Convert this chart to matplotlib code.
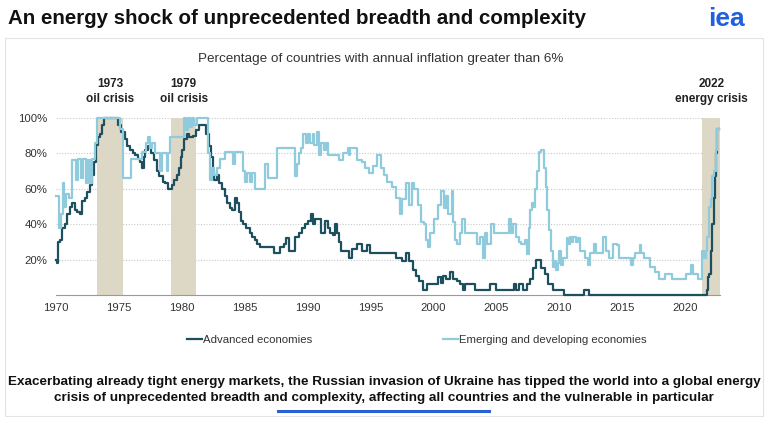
import matplotlib
matplotlib.use("Agg")
import matplotlib.pyplot as plt
from matplotlib.patches import Rectangle

plt.rcParams['font.family'] = ['Liberation Sans', 'DejaVu Sans']

# share of countries with inflation > 6% (year, %)
adv_t = [1970.0, 1970.08, 1970.15, 1970.35, 1970.45, 1970.7, 1970.9, 1971.1, 1971.3, 1971.5,
         1971.7, 1971.9, 1972.1, 1972.3, 1972.5, 1972.7, 1972.85, 1973.0, 1973.2, 1973.35,
         1973.5, 1973.65, 1973.8, 1974.9, 1975.2, 1975.45, 1975.65, 1975.9, 1976.1, 1976.3,
         1976.5, 1976.7, 1976.85, 1977.0, 1977.1, 1977.3, 1977.55, 1977.8, 1978.0, 1978.2,
         1978.5, 1978.7, 1978.9, 1979.2, 1979.4, 1979.6, 1979.8, 1979.95, 1980.05, 1980.2,
         1980.4, 1980.6, 1980.9, 1981.1, 1981.4, 1981.95, 1982.15, 1982.3, 1982.45, 1982.6,
         1982.8, 1983.0, 1983.2, 1983.4, 1983.6, 1983.8, 1984.0, 1984.2, 1984.4, 1984.55,
         1984.7, 1984.85, 1985.1, 1985.4, 1985.6, 1985.8, 1986.0, 1986.2, 1987.3, 1987.85,
         1988.1, 1988.3, 1988.5, 1989.0, 1989.3, 1989.55, 1989.8, 1990.0, 1990.3, 1990.45,
         1990.6, 1991.1, 1991.4, 1991.6, 1991.75, 1992.0, 1992.15, 1992.35, 1992.5, 1992.7,
         1993.3, 1993.55, 1993.9, 1994.3, 1994.7, 1995.0, 1997.0, 1997.55, 1997.85, 1998.1,
         1998.4, 1998.65, 1998.9, 1999.2, 1999.5, 2000.35, 2000.6, 2000.8, 2001.0, 2001.3,
         2001.6, 2001.9, 2002.15, 2002.4, 2002.55, 2003.35, 2004.5, 2005.0, 2006.4, 2006.6,
         2006.85, 2007.1, 2007.45, 2007.7, 2007.95, 2008.15, 2008.6, 2008.85, 2009.1, 2009.5,
         2010.4, 2011.95, 2012.35, 2021.75, 2021.85, 2021.95, 2022.05, 2022.15, 2022.3, 2022.4,
         2022.5, 2022.6, 2022.7]
adv_v = [20, 18, 30, 31, 38, 40, 46, 50, 52, 48,
         47, 46, 53, 55, 58, 62, 68, 75, 85, 89,
         91, 96, 100, 96, 92, 88, 84, 82, 80, 79,
         77, 75, 72, 78, 82, 84, 80, 76, 70, 67,
         64, 63, 60, 62, 65, 68, 72, 78, 82, 88,
         91, 89, 90, 93, 96, 91, 84, 78, 70, 65,
         68, 63, 60, 56, 52, 49, 48, 55, 52, 47,
         42, 40, 38, 35, 33, 31, 29, 27, 24, 27,
         29, 32, 25, 33, 35, 38, 40, 42, 46, 40,
         43, 35, 42, 38, 35, 34, 40, 35, 30, 25,
         21, 26, 29, 25, 28, 24, 21, 19, 24, 19,
         14, 11, 8, 3, 6, 10, 7, 11, 9, 13,
         9, 8, 6, 3, 6, 3, 6, 3, 6, 3,
         6, 3, 6, 9, 15, 20, 15, 12, 6, 3,
         0, 3, 0, 3, 10, 12, 25, 40, 55, 67,
         80, 94, 94]

em_t = [1970.0, 1970.25, 1970.4, 1970.55, 1970.65, 1970.8, 1971.0, 1971.25, 1971.6, 1971.75,
        1971.95, 1972.15, 1972.4, 1972.55, 1972.7, 1972.9, 1973.1, 1973.25, 1975.1, 1975.35,
        1976.0, 1976.8, 1977.15, 1977.35, 1977.5, 1977.65, 1977.85, 1978.3, 1978.45, 1978.8,
        1978.9, 1979.05, 1980.2, 1980.35, 1980.5, 1980.65, 1980.8, 1981.0, 1981.2, 1982.05,
        1982.25, 1982.4, 1982.55, 1982.8, 1983.05, 1983.4, 1984.1, 1984.2, 1984.85, 1985.0,
        1985.15, 1985.4, 1985.6, 1985.85, 1986.6, 1986.85, 1987.55, 1989.0, 1989.15, 1989.3,
        1989.45, 1989.65, 1989.85, 1990.0, 1990.2, 1990.4, 1990.55, 1990.75, 1990.95, 1991.1,
        1991.3, 1991.45, 1991.65, 1992.5, 1992.85, 1993.2, 1993.3, 1993.4, 1993.9, 1994.3,
        1994.6, 1994.9, 1995.2, 1995.55, 1995.85, 1996.1, 1996.35, 1996.7, 1997.0, 1997.35,
        1997.55, 1997.85, 1998.05, 1998.3, 1998.45, 1998.75, 1999.0, 1999.3, 1999.45, 1999.6,
        1999.75, 2000.05, 2000.35, 2000.6, 2000.85, 2001.0, 2001.15, 2001.45, 2001.6, 2001.75,
        2001.9, 2002.1, 2002.25, 2002.5, 2003.5, 2003.75, 2003.95, 2004.1, 2004.3, 2004.6,
        2004.85, 2006.0, 2006.15, 2006.35, 2006.55, 2006.8, 2007.0, 2007.3, 2007.45, 2007.6,
        2007.7, 2007.85, 2008.0, 2008.1, 2008.25, 2008.4, 2008.55, 2008.8, 2008.95, 2009.05,
        2009.2, 2009.35, 2009.5, 2009.6, 2009.75, 2009.9, 2010.0, 2010.15, 2010.35, 2010.6,
        2010.75, 2010.85, 2011.0, 2011.15, 2011.35, 2011.5, 2011.7, 2012.1, 2012.3, 2012.5,
        2012.75, 2012.95, 2013.5, 2013.7, 2013.95, 2014.3, 2014.6, 2014.75, 2015.7, 2015.9,
        2016.05, 2016.4, 2016.55, 2016.75, 2017.25, 2017.65, 2017.95, 2018.45, 2018.95, 2020.1,
        2020.5, 2020.65, 2021.05, 2021.35, 2021.5, 2021.65, 2021.8, 2021.95, 2022.1, 2022.2,
        2022.35, 2022.45, 2022.6, 2022.7]
em_v = [56, 38, 46, 63, 50, 57, 55, 76, 65, 77,
        66, 77, 63, 76, 63, 77, 86, 100, 94, 66,
        77, 81, 86, 89, 83, 86, 80, 70, 80, 70,
        80, 89, 100, 93, 100, 95, 100, 96, 100, 80,
        65, 72, 68, 72, 77, 81, 74, 81, 70, 64,
        69, 64, 69, 60, 74, 66, 83, 67, 74, 80,
        83, 91, 86, 91, 86, 91, 85, 92, 79, 86,
        82, 86, 79, 76, 80, 83, 79, 83, 76, 75,
        72, 69, 73, 79, 72, 68, 64, 61, 55, 46,
        54, 63, 51, 63, 60, 51, 41, 40, 31, 27,
        35, 43, 51, 59, 49, 56, 46, 59, 41, 31,
        29, 35, 43, 35, 29, 33, 21, 35, 29, 40,
        35, 43, 35, 40, 33, 30, 29, 31, 23, 38,
        48, 52, 50, 60, 70, 81, 82, 72, 61, 48,
        37, 25, 16, 19, 14, 18, 25, 17, 21, 32,
        29, 33, 30, 33, 30, 32, 25, 21, 17, 24,
        29, 24, 33, 25, 21, 29, 28, 21, 17, 21,
        24, 28, 24, 21, 16, 13, 9, 12, 9, 12,
        17, 12, 9, 25, 21, 25, 33, 50, 54, 67,
        70, 82, 94, 94]

crises = [(1973.3, 1975.3, "1973\noil crisis"),
          (1979.15, 1981.15, "1979\noil crisis"),
          (2021.4, 2022.8, "2022\nenergy crisis")]

x_ticks = [1970, 1975, 1980, 1985, 1990, 1995, 2000, 2005, 2010, 2015, 2020]
y_ticks = [20, 40, 60, 80, 100]

dark = "#1d4f5e"
light = "#8fcbdc"
band = "#ddd8c5"

W, H = 768, 433
fig = plt.figure(figsize=(W / 100, H / 100), dpi=100)
fig.patch.set_facecolor("white")

def fx(px):
    return px / W

def fy(py):
    return 1 - py / H

# panel frame
fig.patches.append(Rectangle((fx(5), fy(416)), fx(758), (378) / H, transform=fig.transFigure,
                             fill=False, edgecolor="#e3e3e3", linewidth=0.8))

ax = fig.add_axes([fx(56), fy(295), fx(664), 177 / H])
for x0, x1, lab in crises:
    ax.axvspan(x0, x1, color=band, linewidth=0, zorder=1)
    ax.text((x0 + x1) / 2, 107.5, lab, ha="center", va="bottom", fontsize=8.5, fontweight="bold",
            color="#222222", linespacing=1.3)

ax.plot(adv_t, adv_v, drawstyle="steps-post", color=dark, linewidth=1.6, zorder=3,
        clip_on=False, label="Advanced economies")
ax.plot(em_t, em_v, drawstyle="steps-post", color=light, linewidth=1.6, zorder=4,
        clip_on=False, label="Emerging and developing economies")

ax.set_xlim(1970, 2022.8)
ax.set_ylim(0, 100)
ax.set_xticks(x_ticks)
ax.set_xticklabels([str(t) for t in x_ticks], fontsize=8.2, color="#333333")
ax.set_yticks(y_ticks)
ax.set_yticklabels([str(t) + "%" for t in y_ticks], fontsize=8.2, color="#333333")
ax.tick_params(length=0, pad=6)
ax.yaxis.grid(True, linestyle=(0, (1, 1.5)), color="#c8c8c8", linewidth=0.8, zorder=0)
ax.set_axisbelow(True)
for s in ["left", "right", "top"]:
    ax.spines[s].set_visible(False)
ax.spines["bottom"].set_color("#9a9a9a")
ax.spines["bottom"].set_linewidth(0.8)

fig.legend(loc="center", bbox_to_anchor=(fx(417), fy(340)), ncol=2, frameon=False,
           fontsize=8.2, handlelength=1.3, handletextpad=0.1, columnspacing=11.5,
           labelcolor="#333333")

fig.text(fx(8), fy(18), "An energy shock of unprecedented breadth and complexity",
         fontsize=14.8, fontweight="bold", color="#111111", va="center", ha="left")
fig.text(fx(726), fy(19), "iea", fontsize=19, fontweight="bold", color="#1f5fe0",
         va="center", ha="center")
fig.text(fx(381), fy(59), "Percentage of countries with annual inflation greater than 6%",
         fontsize=9.7, color="#333333", va="center", ha="center")
fig.text(fx(384), fy(390),
         "Exacerbating already tight energy markets, the Russian invasion of Ukraine has tipped the world into a global energy\n"
         "crisis of unprecedented breadth and complexity, affecting all countries and the vulnerable in particular",
         fontsize=9.7, fontweight="bold", color="#111111", va="center", ha="center", linespacing=1.35)
fig.add_artist(plt.Line2D([fx(278), fx(489)], [fy(411), fy(411)], color="#2a5fd8", linewidth=2.2))

fig.savefig("out.png", dpi=100)
